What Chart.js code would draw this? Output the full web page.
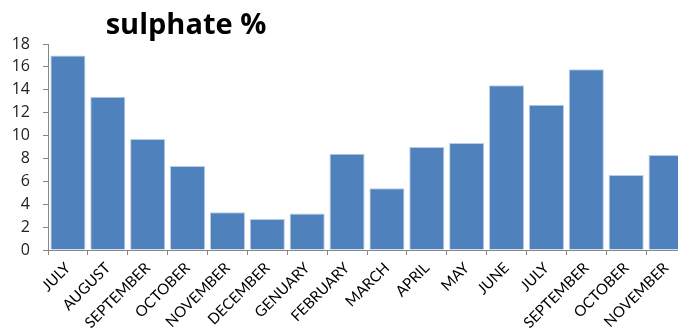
<!DOCTYPE html>
<html>
<head>
<meta charset="utf-8">
<script src="https://cdn.jsdelivr.net/npm/chart.js@4.4.0/dist/chart.umd.min.js"></script>
<style>
  html, body { margin: 0; padding: 0; overflow: hidden; background: #fff; }
  #wrap { width: 686px; height: 333px; }
</style>
</head>
<body>
<div id="wrap"><canvas id="sulphChart" width="686" height="333"></canvas></div>
<script>
const months = ['JULY', 'AUGUST', 'SEPTEMBER', 'OCTOBER', 'NOVEMBER', 'DECEMBER', 'GENUARY', 'FEBRUARY',
  'MARCH', 'APRIL', 'MAY', 'JUNE', 'JULY', 'SEPTEMBER', 'OCTOBER', 'NOVEMBER'];
const sulphate = [17.0, 13.4, 9.7, 7.35, 3.3, 2.7, 3.2, 8.4, 5.4, 9.0, 9.35, 14.4, 12.7, 15.8, 6.55, 8.3];
const yTicks = [0, 2, 4, 6, 8, 10, 12, 14, 16, 18];

const titlePlugin = {
  id: 'bigTitle',
  afterDraw(chart) {
    const c = chart.ctx;
    c.save();
    c.font = 'bold 29px "Open Sans", "Liberation Sans", sans-serif';
    c.fillStyle = '#000';
    c.textAlign = 'center';
    c.textBaseline = 'middle';
    c.fillText('sulphate %', 186, 26);
    c.restore();
  }
};

const ctx = document.getElementById('sulphChart').getContext('2d');

new Chart(ctx, {
  type: 'bar',
  data: {
    labels: months,
    datasets: [{
      label: 'sulphate %',
      data: sulphate,
      backgroundColor: '#4F81BD',
      borderColor: 'rgba(185, 205, 229, 1)',
      borderWidth: { top: 1, left: 1, right: 1, bottom: 0 },
      barPercentage: 0.88,
      categoryPercentage: 1.0
    }]
  },
  options: {
    responsive: false,
    animation: false,
    layout: { padding: { top: 44, left: 0, right: 0, bottom: 0 } },
    plugins: {
      legend: { display: false },
      title: { display: false },
      tooltip: { enabled: false }
    },
    scales: {
      x: {
        afterFit(scale) { scale.height = 83; },
        grid: { display: true, drawOnChartArea: false, offset: true, tickLength: 5, color: '#868686' },
        border: { color: '#868686' },
        ticks: {
          minRotation: 45, maxRotation: 45, autoSkip: false,
          color: '#000',
          padding: 4,
          font: { family: 'Lato, "Liberation Sans", sans-serif', size: 15 }
        }
      },
      y: {
        min: 0, max: 18,
        afterFit(scale) { scale.width = 48; },
        afterBuildTicks(scale) { scale.ticks = yTicks.map(v => ({ value: v })); },
        grid: { display: true, drawOnChartArea: false, tickLength: 5, color: '#868686' },
        border: { color: '#868686' },
        ticks: {
          color: '#222',
          padding: 13,
          font: { family: '"Open Sans", "Liberation Sans", sans-serif', size: 16 }
        }
      }
    }
  },
  plugins: [titlePlugin]
});
</script>
</body>
</html>
